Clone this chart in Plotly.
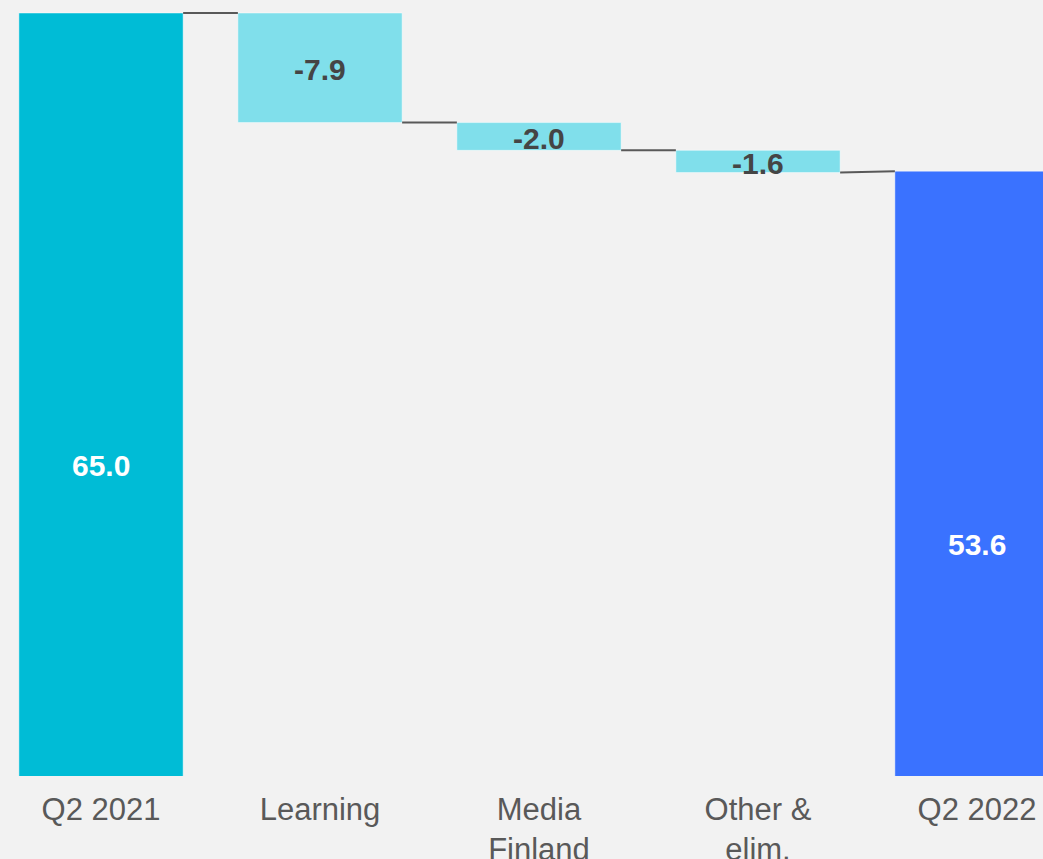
import plotly.graph_objects as go

categories = ["Q2 2021", "Learning", "Media<br>Finland", "Other &<br>elim.", "Q2 2022"]
measures = ["total", "relative", "relative", "relative", "total"]
values = [65.0, -7.9, -2.0, -1.6, 53.6]
labels = ["65.0", "-7.9", "-2.0", "-1.6", "53.6"]
colors = ["#00BCD6", "#80DFEB", "#80DFEB", "#80DFEB", "#3A72FF"]
label_colors = ["#FFFFFF", "#454545", "#454545", "#454545", "#FFFFFF"]

BAR_W = 0.75

# compute bases / ends from data
bases, heights, ends = [], [], []
running = 0.0
for m, v in zip(measures, values):
    if m == "total":
        bases.append(0.0)
        heights.append(v)
        running = v
        ends.append(v)
    else:
        start = running
        running = start + v
        bases.append(start)
        heights.append(v)
        ends.append(running)

xs = list(range(len(categories)))

fig = go.Figure()
fig.add_trace(go.Bar(
    x=xs, y=heights, base=bases, width=BAR_W,
    marker=dict(color=colors, line=dict(color="rgba(255,255,255,0.45)", width=1)),
    hoverinfo="skip", showlegend=False,
))

# connectors
for i in range(len(xs) - 1):
    y0 = ends[i]
    if measures[i + 1] == "total":
        y1 = values[i + 1]
    else:
        y1 = ends[i]
    fig.add_trace(go.Scatter(
        x=[xs[i] + BAR_W / 2, xs[i + 1] - BAR_W / 2], y=[y0, y1],
        mode="lines", line=dict(color="#595959", width=2),
        hoverinfo="skip", showlegend=False, cliponaxis=False,
    ))

# labels
label_y = [b + h / 2 for b, h in zip(bases, heights)]
for x, y, t, c in zip(xs, label_y, labels, label_colors):
    fig.add_annotation(
        x=x, y=y, text="<b>%s</b>" % t, showarrow=False,
        xanchor="center", yanchor="middle", yshift=-2,
        font=dict(family="Liberation Sans, Arial, sans-serif", size=30, color=c),
    )

fig.update_layout(
    width=1043, height=859,
    margin=dict(l=0, r=0, t=0, b=83),
    paper_bgcolor="#F2F2F2", plot_bgcolor="#F2F2F2",
    font=dict(family="Liberation Sans, Arial, sans-serif", color="#595959"),
    xaxis=dict(
        range=[-0.4612, 4.3014], tickvals=xs, ticktext=categories,
        showgrid=False, zeroline=False, showline=False, ticks="",
        tickfont=dict(size=31, color="#595959"),
        ticklabelstandoff=12, automargin=False,
    ),
    yaxis=dict(
        range=[10, 65.937], showgrid=False, zeroline=False, showline=False,
        showticklabels=False, ticks="", automargin=False,
    ),
)

fig.write_html("out.html")
